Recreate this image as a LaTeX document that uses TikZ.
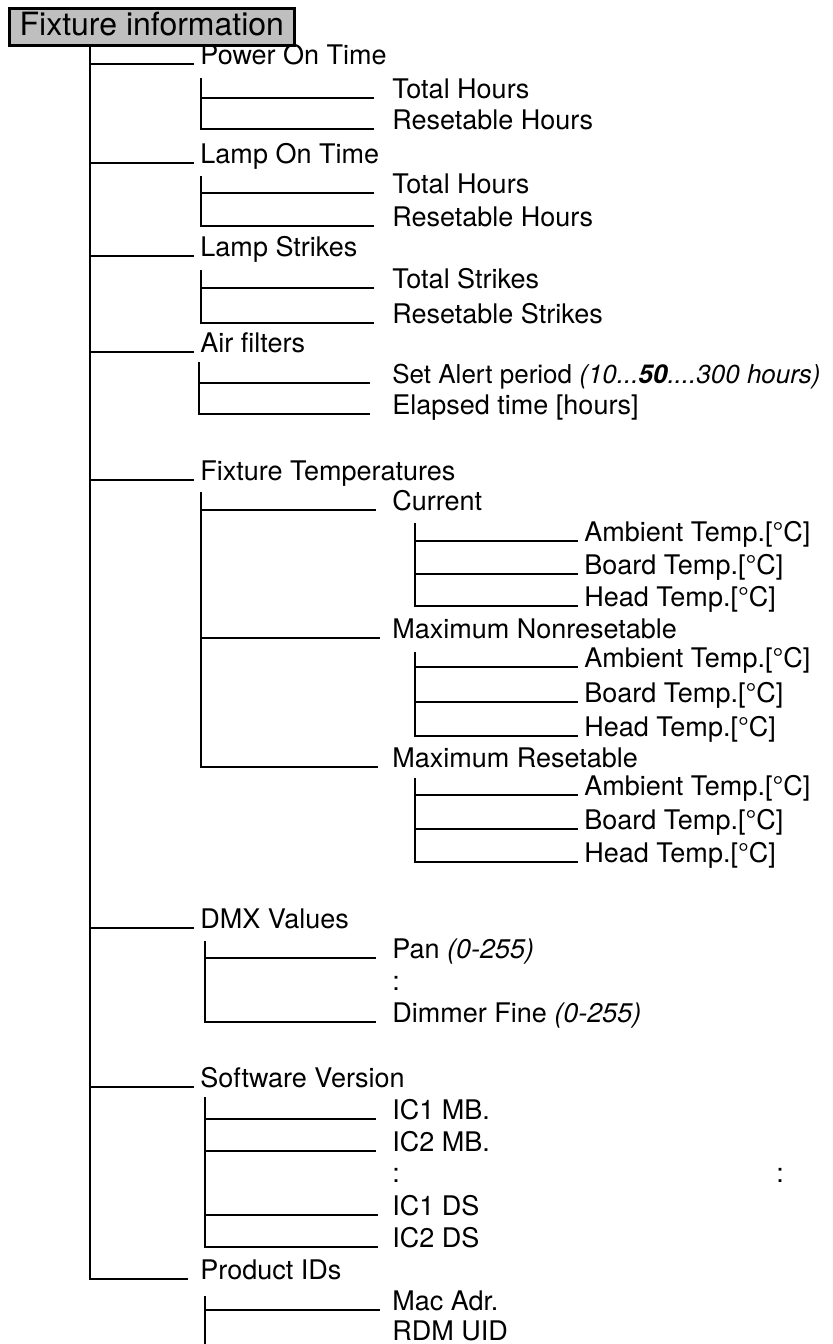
\documentclass[tikz,border=0pt]{standalone}
\usepackage{fontspec}
\setmainfont{TeX Gyre Heros}
\usepackage{tikz}
\usetikzlibrary{positioning}

\begin{document}
\begin{tikzpicture}[
  x=0.5pt, y=-0.5pt,
  font=\fontsize{13.5}{16}\selectfont,
  txt/.style={anchor=base west, inner sep=0pt},
  hdr/.style={draw, line width=1.3pt, fill=black!25, anchor=north west, minimum width=142.5pt,
    minimum height=18.5pt, inner xsep=4pt, inner ysep=0pt, font=\fontsize{16}{18}\selectfont},
  ln/.style={line width=1.4pt}]
\useasboundingbox (0,0) rectangle (833,1344);
% --- title and trunk ---
\node[hdr] (fi) at (8,7) {Fixture information\vphantom{g}};
\coordinate (trunk) at ([xshift=41pt]fi.south west);
% --- first level ---
\node[txt] (p1) at (200,64) {Power On Time};
\node[txt] (p2) at (200,163) {Lamp On Time};
\node[txt] (p3) at (200,256) {Lamp Strikes};
\node[txt] (p4) at (200,352) {Air filters};
\node[txt] (p5) at (200,480) {Fixture Temperatures};
\node[txt] (p6) at (200,928) {DMX Values};
\node[txt] (p7) at (200,1087) {Software Version};
\node[txt] (p8) at (200,1279) {Product IDs};
\draw[ln] (trunk) |- ([xshift=-6pt]p8.base west);
\draw[ln] (p1.base west -| trunk) -- ([xshift=-3pt]p1.base west);
\draw[ln] (p2.base west -| trunk) -- ([xshift=-3pt]p2.base west);
\draw[ln] (p3.base west -| trunk) -- ([xshift=-3pt]p3.base west);
\draw[ln] (p4.base west -| trunk) -- ([xshift=-3pt]p4.base west);
\draw[ln] (p5.base west -| trunk) -- ([xshift=-3pt]p5.base west);
\draw[ln] (p6.base west -| trunk) -- ([xshift=-3pt]p6.base west);
\draw[ln] (p7.base west -| trunk) -- ([xshift=-3pt]p7.base west);
% --- Power On Time ---
\node[txt] (p1a) at (392,98) {Total Hours};
\node[txt] (p1b) at (392,129) {Resetable Hours};
\coordinate (v1) at ([xshift=0.5pt,yshift=-7pt]p1.base west);
\draw[ln] (v1) |- ([xshift=-9pt]p1b.base west);
\draw[ln] (v1 |- p1a.base) -- ([xshift=-9pt]p1a.base west);
% --- Lamp On Time ---
\node[txt] (p2a) at (392,193) {Total Hours};
\node[txt] (p2b) at (392,226) {Resetable Hours};
\coordinate (v2) at ([xshift=0.5pt,yshift=-6.5pt]p2.base west);
\draw[ln] (v2) |- ([xshift=-9pt]p2b.base west);
\draw[ln] (v2 |- p2a.base) -- ([xshift=-9pt]p2a.base west);
% --- Lamp Strikes ---
\node[txt] (p3a) at (392,288) {Total Strikes};
\node[txt] (p3b) at (392,323) {Resetable Strikes};
\coordinate (v3) at ([xshift=0.5pt,yshift=-7pt]p3.base west);
\draw[ln] (v3) |- ([xshift=-9pt]p3b.base west);
\draw[ln] (v3 |- p3a.base) -- ([xshift=-9pt]p3a.base west);
% --- Air filters ---
\node[txt, font=\fontsize{13}{16}\selectfont] (p4a) at (392,383) {Set Alert period \textit{(10...\textbf{50}....300 hours)}};
\node[txt] (p4b) at (392,414) {Elapsed time [hours]};
\coordinate (v4) at ([xshift=-0.5pt,yshift=-5pt]p4.base west);
\draw[ln] (v4) |- ([xshift=-11pt]p4b.base west);
\draw[ln] (v4 |- p4a.base) -- ([xshift=-11pt]p4a.base west);
% --- Fixture Temperatures ---
\node[txt] (p5a) at (392,510) {Current};
\node[txt] (p5b) at (392,638) {Maximum Nonresetable};
\node[txt] (p5c) at (392,767) {Maximum Resetable};
\coordinate (v5) at ([xshift=0.5pt,yshift=-6pt]p5.base west);
\draw[ln] (v5) |- ([xshift=-7pt]p5c.base west);
\draw[ln] (v5 |- p5a.base) -- ([xshift=-8pt]p5a.base west);
\draw[ln] (v5 |- p5b.base) -- ([xshift=-6pt]p5b.base west);
% Current
\node[txt] (t1a) at (584,541) {Ambient Temp.[°C]};
\node[txt] (t1b) at (584,574) {Board Temp.[°C]};
\node[txt] (t1c) at (584,606) {Head Temp.[°C]};
\coordinate (w1) at ([xshift=11.5pt,yshift=-6.5pt]p5a.base west);
\draw[ln] (w1) |- ([xshift=-3pt]t1c.base west);
\draw[ln] (w1 |- t1a.base) -- ([xshift=-3pt]t1a.base west);
\draw[ln] (w1 |- t1b.base) -- ([xshift=-3pt]t1b.base west);
% Maximum Nonresetable
\node[txt] (t2a) at (584,667) {Ambient Temp.[°C]};
\node[txt] (t2b) at (584,702) {Board Temp.[°C]};
\node[txt] (t2c) at (584,736) {Head Temp.[°C]};
\coordinate (w2) at ([xshift=11.5pt,yshift=-7pt]p5b.base west);
\draw[ln] (w2) |- ([xshift=-3pt]t2c.base west);
\draw[ln] (w2 |- t2a.base) -- ([xshift=-3pt]t2a.base west);
\draw[ln] (w2 |- t2b.base) -- ([xshift=-3pt]t2b.base west);
% Maximum Resetable
\node[txt] (t3a) at (584,795) {Ambient Temp.[°C]};
\node[txt] (t3b) at (584,829) {Board Temp.[°C]};
\node[txt] (t3c) at (584,862) {Head Temp.[°C]};
\coordinate (w3) at ([xshift=11.5pt,yshift=-5.5pt]p5c.base west);
\draw[ln] (w3) |- ([xshift=-3pt]t3c.base west);
\draw[ln] (w3 |- t3a.base) -- ([xshift=-3pt]t3a.base west);
\draw[ln] (w3 |- t3b.base) -- ([xshift=-3pt]t3b.base west);
% --- DMX Values ---
\node[txt] (p6a) at (392,958) {Pan \textit{(0-255)}};
\node[txt] (p6d) at (392,990) {:};
\node[txt] (p6b) at (392,1022) {Dimmer Fine \textit{(0-255)}};
\coordinate (v6) at ([xshift=2.5pt,yshift=-6.5pt]p6.base west);
\draw[ln] (v6) |- ([xshift=-8pt]p6b.base west);
\draw[ln] (v6 |- p6a.base) -- ([xshift=-8pt]p6a.base west);
% --- Software Version ---
\node[txt] (p7a) at (392,1119) {IC1 MB.};
\node[txt] (p7b) at (392,1151) {IC2 MB.};
\node[txt] (p7d) at (392,1182) {:};
\node[txt] (p7e) at (776,1182) {:};
\node[txt] (p7c) at (392,1215) {IC1 DS};
\node[txt] (p7f) at (392,1247) {IC2 DS};
\coordinate (v7) at ([xshift=2.5pt,yshift=-5pt]p7.base west);
\draw[ln] (v7) |- ([xshift=-7pt]p7f.base west);
\draw[ln] (v7 |- p7a.base) -- ([xshift=-8pt]p7a.base west);
\draw[ln] (v7 |- p7b.base) -- ([xshift=-8pt]p7b.base west);
\draw[ln] (v7 |- p7c.base) -- ([xshift=-7pt]p7c.base west);
% --- Product IDs ---
\node[txt] (p8a) at (392,1310) {Mac Adr.};
\node[txt] (p8b) at (392,1340) {RDM UID};
\coordinate (v8) at ([xshift=2.5pt,yshift=-8.5pt]p8.base west);
\coordinate (v8e) at (v8 |- 0,1344);
\draw[ln] (v8) -- (v8e);
\draw[ln] (v8 |- p8a.base) -- ([xshift=-6pt]p8a.base west);
\end{tikzpicture}
\end{document}
